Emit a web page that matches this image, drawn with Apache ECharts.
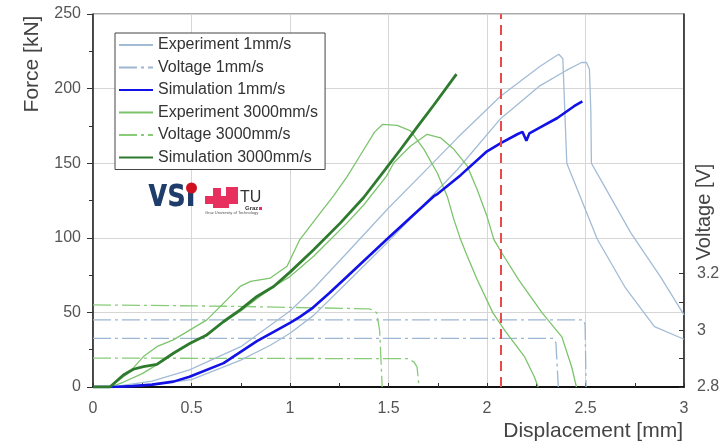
<!DOCTYPE html>
<html><head><meta charset="utf-8">
<script src="https://cdn.jsdelivr.net/npm/echarts@6/dist/echarts.min.js"></script>
<style>html,body{margin:0;padding:0;background:#fff}#c{width:720px;height:444px}</style>
</head><body><div id="c"></div><script>
// ---- data ----
const xTicks = [0, 0.5, 1, 1.5, 2, 2.5, 3];
const forceTicks = [0, 50, 100, 150, 200, 250];
const voltTickLabels = [2.8, 3, 3.2];
const redLineX = 2.07;

const exp1A_x = [0, 0.1, 0.3, 0.49, 0.75, 1.0, 1.12, 1.29, 1.5, 1.68, 1.85, 2.07, 2.27, 2.34, 2.365, 2.385, 2.395, 2.405, 2.56, 2.70, 2.85, 3.0];
const exp1A_y = [0, 0, 4, 11.5, 27, 51, 66, 90, 120, 144, 167, 195, 215, 221, 223, 220, 185, 150, 99, 67, 40.5, 32];
const exp1B_x = [0, 0.1, 0.3, 0.5, 0.75, 0.9, 1.0, 1.12, 1.29, 1.5, 1.713, 1.85, 2.07, 2.27, 2.4, 2.48, 2.505, 2.52, 2.527, 2.53, 2.59, 2.73, 2.88, 3.0];
const exp1B_y = [0, 0, 1.5, 5, 18, 28, 36, 48, 70, 97.6, 126.8, 145.8, 180, 202, 212, 217.5, 217.5, 213, 185, 150, 136, 103.3, 74, 48.4];
const sim1_x = [0, 0.1, 0.2, 0.3, 0.408, 0.49, 0.663, 0.832, 1.0, 1.05, 1.11, 1.2, 1.29, 1.5, 1.73, 1.75, 1.866, 2.0, 2.07, 2.154, 2.18, 2.19, 2.2, 2.215, 2.27, 2.357, 2.442, 2.484];
const sim1_y = [0, 0, 0.6, 1.6, 3.6, 6.9, 16, 30.8, 43, 47, 52.5, 63, 74.1, 100, 127.9, 129.5, 142, 158, 163.5, 169.4, 171, 168, 165, 170, 174, 180.3, 188.2, 191.5];
const exp3A_x = [0, 0.086, 0.188, 0.256, 0.324, 0.408, 0.493, 0.578, 0.663, 0.747, 0.8, 0.9, 0.985, 1.05, 1.154, 1.22, 1.29, 1.36, 1.43, 1.47, 1.544, 1.612, 1.68, 1.747, 1.798, 1.832, 1.866, 1.9, 1.95, 2.03, 2.09, 2.19, 2.24, 2.26];
const exp3A_y = [0, 0, 10.3, 20.4, 27, 31.6, 38.3, 45, 56.2, 67.4, 70.8, 73, 80.9, 98.8, 116.7, 128, 141, 156, 171, 176, 175.4, 171.6, 159.3, 143.6, 127.9, 112.2, 98.8, 87.6, 72, 49.7, 38, 20.4, 6.9, 0];
const exp3B_x = [0, 0.086, 0.15, 0.25, 0.35, 0.45, 0.55, 0.65, 0.75, 0.85, 0.917, 1.0, 1.12, 1.29, 1.374, 1.49, 1.527, 1.612, 1.696, 1.764, 1.832, 1.9, 1.95, 2.0, 2.035, 2.07, 2.16, 2.28, 2.38, 2.43, 2.454];
const exp3B_y = [0, 0, 3, 9, 17, 26, 33, 42, 51, 61, 67.4, 74, 87.6, 110, 122, 141.3, 150.3, 161.5, 169.4, 167, 159.3, 148, 132.4, 114.4, 98.8, 91, 72, 49.7, 33.6, 13.4, 0];
const sim3_x = [0, 0.086, 0.154, 0.205, 0.256, 0.324, 0.408, 0.493, 0.578, 0.663, 0.747, 0.832, 0.917, 1.0, 1.12, 1.256, 1.374, 1.485, 1.56, 1.65, 1.73, 1.845];
const sim3_y = [0, 0, 8, 11.9, 13.7, 15.2, 22.6, 29.3, 34.9, 43.9, 51.7, 60.7, 67.4, 77, 92, 110, 127, 146, 159, 175, 189, 209.7];
const volt1A_x = [0, 2.49, 2.498, 2.503];
const volt1A_v = [3.037, 3.037, 3.02, 2.8];
const volt1B_x = [0, 2.335, 2.35, 2.362];
const volt1B_v = [2.972, 2.972, 2.955, 2.8];
const volt3A_x = [0, 0.7, 1.4, 1.42, 1.44, 1.455, 1.468];
const volt3A_v = [3.090, 3.085, 3.076, 3.072, 3.062, 3.0, 2.8];
const volt3B_x = [0, 1.6, 1.63, 1.645, 1.655];
const volt3B_v = [2.902, 2.9, 2.888, 2.87, 2.8];

// ---- chart ----
const zip = (xs, ys) => xs.map((x, i) => [x, ys[i]]);
const FONT = 'Liberation Sans, Arial, sans-serif';
const C = {
  exp1: '#a3bcd6', volt1: '#9db6d2', sim1: '#1212e6',
  exp3: '#7cc46c', volt3: '#88cc78', sim3: '#2e7a2e'
};
const dashDot = [18, 4, 3, 4];
function line(name, data, color, width, yIdx, type, z) {
  return {
    type: 'line', name, data, yAxisIndex: yIdx || 0, symbol: 'none', showSymbol: false,
    animation: false, z: z || 2,
    lineStyle: { color, width, type: type || 'solid' },
    itemStyle: { color }
  };
}
const series = [
  line('Voltage 1mm/s', zip(volt1A_x, volt1A_v), C.volt1, 1.3, 1, dashDot),
  line('Voltage 1mm/s', zip(volt1B_x, volt1B_v), C.volt1, 1.3, 1, dashDot),
  line('Voltage 3000mm/s', zip(volt3A_x, volt3A_v), C.volt3, 1.3, 1, dashDot),
  line('Voltage 3000mm/s', zip(volt3B_x, volt3B_v), C.volt3, 1.3, 1, dashDot),
  line('Experiment 1mm/s', zip(exp1A_x, exp1A_y), C.exp1, 1.3),
  line('Experiment 1mm/s', zip(exp1B_x, exp1B_y), C.exp1, 1.3),
  line('Experiment 3000mm/s', zip(exp3A_x, exp3A_y), C.exp3, 1.3),
  line('Experiment 3000mm/s', zip(exp3B_x, exp3B_y), C.exp3, 1.3),
  line('Simulation 1mm/s', zip(sim1_x, sim1_y), C.sim1, 2.6, 0, 'solid', 3),
  line('Simulation 3000mm/s', zip(sim3_x, sim3_y), C.sim3, 2.8, 0, 'solid', 3)
];
series[0].markLine = {
  silent: true, symbol: 'none', animation: false,
  label: { show: false },
  lineStyle: { color: '#ea4a4a', width: 2, type: [10, 6] },
  data: [{ xAxis: redLineX }]
};

const chart = echarts.init(document.getElementById('c'), null, { renderer: 'canvas' });
chart.setOption({
  animation: false,
  backgroundColor: '#fff',
  grid: { left: 93, top: 14, width: 591, height: 373, show: true, borderColor: '#555', borderWidth: 1, outerBoundsMode: 'none' },
  legend: {
    orient: 'vertical', left: 115, top: 33,
    data: ['Experiment 1mm/s', 'Voltage 1mm/s', 'Simulation 1mm/s', 'Experiment 3000mm/s', 'Voltage 3000mm/s', 'Simulation 3000mm/s'],
    itemWidth: 34, itemHeight: 14, itemGap: 6.5,
    padding: [4, 7, 4, 3],
    itemStyle: { opacity: 0, borderWidth: 0 },
    backgroundColor: '#fff', borderColor: '#444', borderWidth: 1,
    textStyle: { fontFamily: FONT, fontSize: 16, color: '#333' },
    z: 10
  },
  xAxis: {
    type: 'value', min: xTicks[0], max: xTicks[xTicks.length - 1], interval: 0.5,
    axisLine: { show: true, lineStyle: { color: '#111', width: 2 } },
    axisTick: { show: true, inside: true, length: 4, lineStyle: { color: '#333' } },
    minorTick: { show: true, splitNumber: 2, length: 4, lineStyle: { color: '#333' } },
    axisLabel: { fontFamily: FONT, fontSize: 16, color: '#555', margin: 14 },
    splitLine: { show: true, lineStyle: { color: '#d6d6d6', width: 1 } }
  },
  yAxis: [
    {
      type: 'value', min: forceTicks[0], max: forceTicks[forceTicks.length - 1], interval: 50,
      axisLine: { show: true, onZero: false, lineStyle: { color: '#222', width: 1.5 } },
      axisTick: { show: true, length: 6, lineStyle: { color: '#333' } },
      minorTick: { show: true, splitNumber: 2, length: 4, lineStyle: { color: '#333' } },
      axisLabel: { fontFamily: FONT, fontSize: 16, color: '#555', margin: 12 },
      splitLine: { show: true, lineStyle: { color: '#d6d6d6', width: 1 } }
    },
    {
      type: 'value', position: 'right', min: 2.8, max: 4.117,
      axisLine: { show: true, onZero: false, lineStyle: { color: '#222', width: 1.5 } },
      axisTick: { show: true, inside: true, length: 5, customValues: [2.8, 2.9, 3, 3.1, 3.2], lineStyle: { color: '#333' } },
      axisLabel: { fontFamily: FONT, fontSize: 16, color: '#555', margin: 13, customValues: voltTickLabels },
      splitLine: { show: false }
    }
  ],
  series,
  graphic: [
    { type: 'text', x: 32, y: 64, rotation: Math.PI / 2, silent: true,
      style: { text: 'Force [kN]', font: '21px ' + FONT, fill: '#444', align: 'center', verticalAlign: 'middle' } },
    { type: 'text', x: 683, y: 431, silent: true,
      style: { text: 'Displacement [mm]', font: '21px ' + FONT, fill: '#444', align: 'right', verticalAlign: 'middle' } },
    { type: 'text', x: 704, y: 212, rotation: Math.PI / 2, silent: true,
      style: { text: 'Voltage [V]', font: '20px ' + FONT, fill: '#444', align: 'center', verticalAlign: 'middle' } },
    // VSI logo
    { type: 'text', x: 148, y: 216, scaleX: 0.75, silent: true, z: 20,
      style: { text: 'vs\u0131', font: 'bold 40px DejaVu Sans', fill: '#1f3d6b', align: 'left', verticalAlign: 'bottom' } },
    { type: 'circle', silent: true, z: 20, shape: { cx: 191.5, cy: 188, r: 5.5 }, style: { fill: '#d0101e' } },
    // TU Graz logo
    { type: 'rect', silent: true, z: 20, shape: { x: 205, y: 196, width: 33, height: 8 }, style: { fill: '#e8305f' } },
    { type: 'rect', silent: true, z: 20, shape: { x: 213, y: 188, width: 8, height: 20 }, style: { fill: '#e8305f' } },
    { type: 'rect', silent: true, z: 20, shape: { x: 226, y: 187, width: 12, height: 9 }, style: { fill: '#e8305f' } },
    { type: 'rect', silent: true, z: 20, shape: { x: 221, y: 204, width: 8, height: 4 }, style: { fill: '#e8305f' } },
    { type: 'text', x: 240, y: 206, silent: true, z: 20,
      style: { text: 'TU', font: '16px ' + FONT, fill: '#333', align: 'left', verticalAlign: 'bottom' } },
    { type: 'text', x: 245, y: 211, silent: true, z: 20,
      style: { text: 'Graz', font: 'bold 6px ' + FONT, fill: '#333', align: 'left', verticalAlign: 'bottom' } },
    { type: 'rect', silent: true, z: 20, shape: { x: 259, y: 207, width: 3, height: 3 }, style: { fill: '#e8305f' } },
    { type: 'text', x: 205, y: 215, silent: true, z: 20,
      style: { text: 'Graz University of Technology', font: '4px ' + FONT, fill: '#555', align: 'left', verticalAlign: 'bottom' } }
  ]
});
</script></body></html>
